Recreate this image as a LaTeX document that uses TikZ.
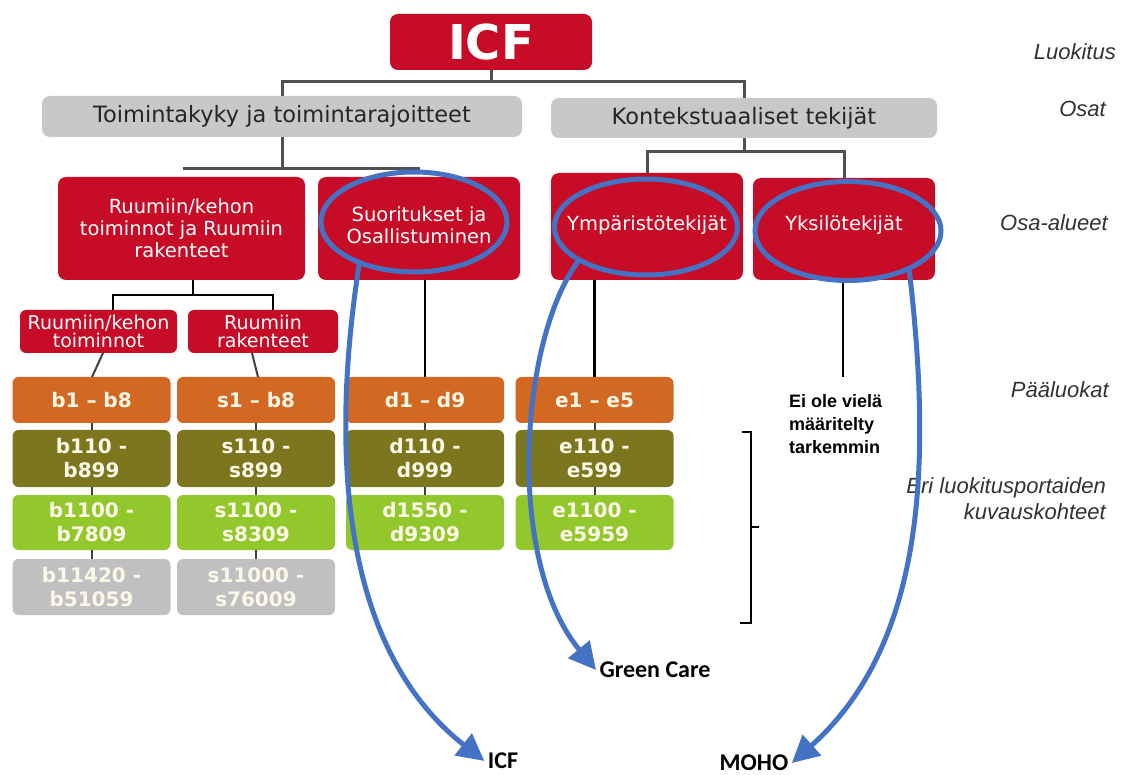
\documentclass[tikz,border=0pt]{standalone}
\usepackage{fontspec}
\setmainfont{DejaVu Sans}
\newfontfamily\arialf{Liberation Sans}
\newfontfamily\calib{Carlito}
\usetikzlibrary{shapes.geometric,arrows.meta}
\definecolor{icfred}{RGB}{198,12,38}
\definecolor{boxgray}{RGB}{200,200,200}
\definecolor{orng}{RGB}{210,104,34}
\definecolor{olivec}{RGB}{124,118,30}
\definecolor{lgreen}{RGB}{146,200,44}
\definecolor{lgray}{RGB}{192,192,192}
\definecolor{cream}{RGB}{252,248,232}
\definecolor{ablue}{RGB}{68,114,196}
\definecolor{lblgray}{RGB}{50,50,50}
\definecolor{lineg}{RGB}{80,80,80}
\newcommand{\upby}[2]{\raisebox{#1}{\begin{tabular}{@{}c@{}}#2\end{tabular}}}
\begin{document}
\begin{tikzpicture}[x=1pt,y=-1pt,
 base/.style={rounded corners=8pt, inner sep=0pt, outer sep=0pt, align=center},
 redbox/.style={base, fill=icfred, text=white, font=\fontsize{19.5}{22}\selectfont},
 subbox/.style={base, rounded corners=6pt, fill=icfred, text=white, minimum height=43, font=\fontsize{19}{18}\selectfont},
 graybox/.style={base, fill=boxgray, text=black!85, font=\fontsize{22.5}{26}\selectfont},
 codebox/.style={base, rounded corners=6pt, minimum width=158, text=cream, font=\bfseries\fontsize{20}{24}\selectfont},
 rowa/.style={codebox, fill=orng, minimum height=46},
 rowb/.style={codebox, fill=olivec, minimum height=57},
 rowc/.style={codebox, fill=lgreen, minimum height=55},
 rowd/.style={codebox, fill=lgray, minimum height=56},
 conn/.style={draw=lineg, line width=3pt},
 conk/.style={draw=black, line width=2.5pt},
 thinc/.style={draw=black!75, line width=2pt},
 bracketl/.style={draw=black, line width=1.4pt},
 sidelbl/.style={anchor=east, inner sep=0pt, text=lblgray, font=\arialf\itshape\fontsize{22}{26}\selectfont, align=right},
 circ/.style={ellipse, draw=ablue, line width=5pt, inner sep=0pt},
 barrow/.style={draw=ablue, line width=5pt, -{Triangle[length=27pt,width=27pt]}},
 endlbl/.style={font=\calib\bfseries\fontsize{24}{28}\selectfont, text=black}
]
\useasboundingbox (0,0) rectangle (1130,775);

% top levels
\node[base, fill=icfred, text=white, minimum width=202, minimum height=56, font=\bfseries\fontsize{48}{50}\selectfont] (icf) at (491,42) {ICF};
\node[graybox, minimum width=480, minimum height=41] (toim) at (282,116.5) {Toimintakyky ja toimintarajoitteet};
\node[graybox, minimum width=386, minimum height=40] (kont) at (744,118) {Kontekstuaaliset tekijät};

\node[redbox, minimum width=247, minimum height=103] (ruum) at (181.5,228.5) {Ruumiin/kehon\\toiminnot ja Ruumiin\\rakenteet};
\node[redbox, minimum width=202, minimum height=103] (suor) at (419,228.5) {\upby{10pt}{Suoritukset ja\\Osallistuminen}};
\node[redbox, minimum width=192, minimum height=107] (ymp) at (647,226.5) {\upby{4pt}{Ympäristötekijät}};
\node[redbox, minimum width=182, minimum height=102] (yks) at (844,229) {\upby{11pt}{Yksilötekijät}};

\node[subbox, minimum width=157] (sub1) at (98.5,331.5) {Ruumiin/kehon\\toiminnot};
\node[subbox, minimum width=150] (sub2) at (263,331.5) {Ruumiin\\rakenteet};

% code boxes
\node[rowa] (b1) at (91.5,400) {b1 -- b8};
\node[rowa] (s1) at (256,400) {s1 -- b8};
\node[rowa] (d1) at (425,400) {d1 -- d9};
\node[rowa] (e1) at (594.5,400) {e1 -- e5};
\node[rowb] (b2) at (91.5,458.5) {b110 -\\b899};
\node[rowb] (s2) at (256,458.5) {s110 -\\s899};
\node[rowb] (d2) at (425,458.5) {d110 -\\d999};
\node[rowb] (e2) at (594.5,458.5) {e110 -\\e599};
\node[rowc] (b3) at (91.5,522.5) {b1100 -\\b7809};
\node[rowc] (s3) at (256,522.5) {s1100 -\\s8309};
\node[rowc] (d3) at (425,522.5) {d1550 -\\d9309};
\node[rowc] (e3) at (594.5,522.5) {e1100 -\\e5959};
\node[rowd] (b4) at (91.5,587) {b11420 -\\b51059};
\node[rowd] (s4) at (256,587) {s11000 -\\s76009};

% connectors (top)
\coordinate (ja) at (0,82);
\draw[conn] (icf.south) -- (icf.south |- ja);
\draw[conn] (toim.north) -- (toim.north |- ja) -- (kont.north |- ja) -- (kont.north);
\coordinate (jbl) at (183,169);
\coordinate (jbr) at (420,169);
\draw[conn] (toim.south) -- (toim.south |- jbl);
\draw[conn] (jbl) -- (jbr);
\coordinate (jc) at (0,152);
\draw[conn] (kont.south) -- (kont.south |- jc);
\draw[conn] (ymp.north) -- (ymp.north |- jc) -- (yks.north |- jc) -- (yks.north);

% ruum -> subs
\coordinate (jr) at (0,295);
\coordinate (ruumb) at ([xshift=11.5]ruum.south);
\coordinate (sub1t) at ([xshift=14.5]sub1.north);
\coordinate (sub2t) at ([xshift=10]sub2.north);
\draw[conk] (ruumb) -- (ruumb |- jr);
\draw[conk] (sub1t) -- (sub1t |- jr) -- (sub2t |- jr) -- (sub2t);

% subs -> b1/s1
\coordinate (sub1b) at ([xshift=4.5]sub1.south);
\coordinate (b1t) at ([xshift=0.5]b1.north);
\coordinate (sub2b) at ([xshift=-11]sub2.south);
\coordinate (s1t) at ([xshift=2]s1.north);
\draw[draw=black!75, line width=2pt] (sub1b) -- (b1t);
\draw[draw=black!75, line width=2pt] (sub2b) -- (s1t);

% other verticals
\draw[conk] (d1.north |- suor.south) -- (d1.north);
\draw[conk] (e1.north |- ymp.south) -- (e1.north);
\coordinate (yksend) at (843,377);
\draw[conk] (yks.south -| yksend) -- (yksend);

% row connectors
\foreach \c in {b,s,d,e}{
  \draw[thinc] (\c1.south) -- (\c2.north);
  \draw[thinc] (\c2.south) -- (\c3.north);
}
\draw[thinc] (b3.south) -- (b4.north);
\draw[thinc] (s3.south) -- (s4.north);

% note
\node[font=\arialf\bfseries\fontsize{18}{23}\selectfont, align=left, anchor=west, inner sep=0pt] (eiole) at (789,424) {Ei ole vielä\\määritelty\\tarkemmin};

% bracket
\coordinate (brt) at (751,432);
\coordinate (brb) at (751,623);
\coordinate (brm) at (751,527);
\draw[bracketl] ([xshift=-9]brt) -- (brt) -- (brb) -- ([xshift=-11]brb);
\draw[bracketl] (brm) -- ([xshift=8]brm);

% side labels
\node[sidelbl] (luok) at (1116,52) {Luokitus};
\node[sidelbl] (osat) at (1106,109) {Osat};
\node[sidelbl] (osaal) at (1108,223) {Osa-alueet};
\node[sidelbl] (paal) at (1109,390) {Pääluokat};
\node[sidelbl] (eri) at (1106,499) {Eri luokitusportaiden\\kuvauskohteet};

% end labels
\node[endlbl] (lblicf) at (503,761) {ICF};
\node[endlbl] (lblgc) at (655,670) {Green Care};
\node[endlbl] (lblmoho) at (754,763) {MOHO};

% blue ellipses and arrows
\node[circ, minimum width=186, minimum height=100] (el1) at (414,222) {};
\node[circ, minimum width=183, minimum height=96] (el2) at (646,227) {};
\node[circ, minimum width=186, minimum height=99] (el3) at (848,231) {};
\draw[barrow] (el1.218) .. controls (335,420) and (330,640) .. (lblicf.west);
\draw[barrow] (el2.207) .. controls (520,340) and (505,560) .. (lblgc.west);
\draw[barrow] (el3.327) .. controls (930,450) and (930,640) .. (lblmoho.east);
\end{tikzpicture}
\end{document}
